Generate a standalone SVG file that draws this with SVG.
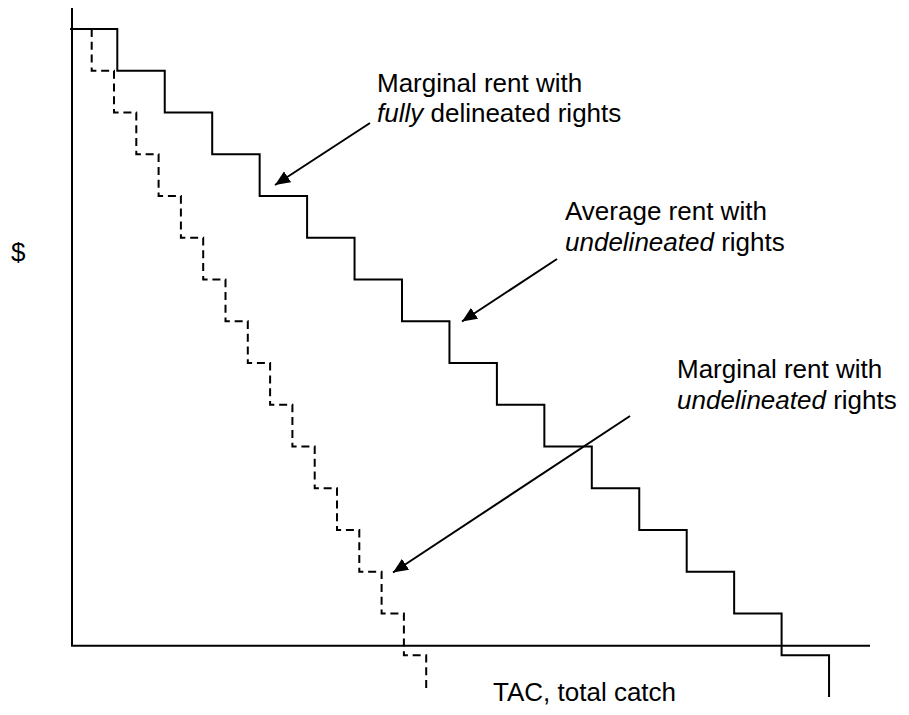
<svg xmlns="http://www.w3.org/2000/svg" width="909" height="715" viewBox="0 0 909 715">
<style>
.ln{fill:none;stroke:#000;stroke-width:2}
.dash{fill:none;stroke:#000;stroke-width:2;stroke-dasharray:8,4.8}
.t{font-family:"Liberation Sans",Arial,sans-serif;font-size:26px;fill:#000}
.i{font-style:italic}
</style>
<defs>
<marker id="ah" viewBox="0 0 15 13" refX="15" refY="6.5" markerWidth="15" markerHeight="13" markerUnits="userSpaceOnUse" orient="auto">
<path d="M0,0 L15,6.5 L0,13 z" fill="#000"/>
</marker>
</defs>
<rect width="909" height="715" fill="#fff"/>
<g id="axes">
<line class="ln" x1="72" y1="8" x2="72" y2="646"/>
<line class="ln" x1="71" y1="645.7" x2="870" y2="645.7"/>
</g>
<g id="marginal-fully">
<path class="ln" d="M70,29 H117.3 V70.75 H164.75 V112.5 H212.2 V154.25 H259.65 V196 H307.1 V237.75 H354.55 V279.5 H402 V321.25 H449.45 V363 H496.9 V404.75 H544.35 V446.5 H591.8 V488.25 H639.25 V530 H686.7 V571.75 H734.15 V613.5 H781.6 V655.25 H829.05 V697"/>
</g>
<g id="marginal-undelineated">
<path class="dash" d="M91.7,29 V70.75 H114 V112.5 H136.3 V154.25 H158.6 V196 H180.9 V237.75 H203.2 V279.5 H225.5 V321.25 H247.8 V363 H270.1 V404.75 H292.4 V446.5 H314.7 V488.25 H337 V530 H359.3 V571.75 H381.6 V613.5 H403.9 V655.25 H426.2 V691"/>
</g>
<g id="connectors">
<line class="ln" x1="370" y1="123" x2="275" y2="185" marker-end="url(#ah)"/>
<line class="ln" x1="557" y1="259" x2="462" y2="321.5" marker-end="url(#ah)"/>
<line class="ln" x1="630" y1="416" x2="393" y2="572.5" marker-end="url(#ah)"/>
</g>
<g id="label-marginal-fully">
<text class="t" x="377" y="92">Marginal rent with</text>
<text class="t" x="377" y="122"><tspan class="i">fully</tspan> delineated rights</text>
</g>
<g id="label-average">
<text class="t" x="565" y="220">Average rent with</text>
<text class="t" x="565" y="251"><tspan class="i">undelineated</tspan> rights</text>
</g>
<g id="label-marginal-undelineated">
<text class="t" x="677" y="378">Marginal rent with</text>
<text class="t" x="677" y="409"><tspan class="i">undelineated</tspan> rights</text>
</g>
<g id="label-y">
<text class="t" x="11" y="261">$</text>
</g>
<g id="label-x">
<text class="t" x="493" y="701">TAC, total catch</text>
</g>
</svg>
